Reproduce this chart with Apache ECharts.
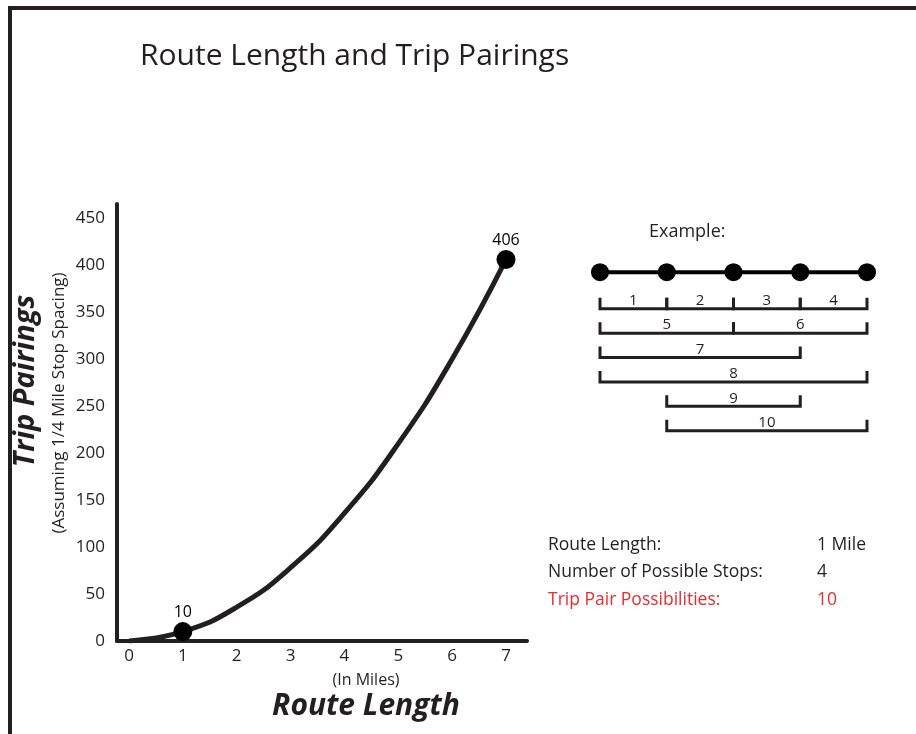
<!DOCTYPE html>
<html>
<head>
<meta charset="utf-8">
<title>Route Length and Trip Pairings</title>
<script src="https://cdn.jsdelivr.net/npm/echarts@6/dist/echarts.min.js"></script>
<style>
  html, body { margin: 0; padding: 0; background: #fff; }
  #chart { width: 916px; height: 734px; }
</style>
</head>
<body>
<div id="chart"></div>
<script>
// curve data
var routeMiles = [0, 1, 2, 3, 4, 5, 6, 7];
var tripPairs = [0, 10, 36, 78, 136, 210, 300, 406];
var markedPoints = [1, 7]; // indexes that get a dot + label
var xTicks = [0, 1, 2, 3, 4, 5, 6, 7];
var yTicks = [0, 50, 100, 150, 200, 250, 300, 350, 400, 450];

// example diagram (1 mile, stops every 1/4 mile)
var stopPositions = [0, 1, 2, 3, 4];
var pairStart = [0, 1, 2, 3, 0, 2, 0, 0, 1, 1];
var pairEnd = [1, 2, 3, 4, 2, 4, 3, 4, 3, 4];
var pairRow = [1, 1, 1, 1, 2, 2, 3, 4, 5, 6];
var pairLabel = ['1', '2', '3', '4', '5', '6', '7', '8', '9', '10'];

var infoLabels = ['Route Length:', 'Number of Possible Stops:', 'Trip Pair Possibilities:'];
var infoValues = ['1 Mile', '4', '10'];

var INK = '#231f20';
var RED = '#ec2a2e';
var FONT = '"Open Sans", "Noto Sans", sans-serif';
var DOT_ROW = -0.5;

var chart = echarts.init(document.getElementById('chart'));

var curveData = routeMiles.map(function (x, i) { return [x, tripPairs[i]]; });
var markData = markedPoints.map(function (i) { return [routeMiles[i], tripPairs[i]]; });
var stopData = stopPositions.map(function (x) { return [x, DOT_ROW]; });
var pairData = pairStart.map(function (s, i) { return [s, pairEnd[i], pairRow[i], pairLabel[i]]; });

var infoGraphics = [];
infoLabels.forEach(function (t, i) {
  var col = i === 2 ? RED : INK;
  infoGraphics.push({
    type: 'text', left: 548, top: 536 + i * 27.5,
    style: { text: t, fill: col, font: '17.5px ' + FONT }
  });
  infoGraphics.push({
    type: 'text', left: 817, top: 536 + i * 27.5,
    style: { text: infoValues[i], fill: col, font: '17.5px ' + FONT }
  });
});

var option = {
  backgroundColor: '#fff',
  animation: false,
  grid: [
    { left: 117, right: 389, top: 204, bottom: 93 },
    { left: 600, right: 49, top: 260, bottom: 279 }
  ],
  xAxis: [
    {
      type: 'value', gridIndex: 0, min: -0.223, max: 7.39,
      axisLine: { show: true, onZero: false, lineStyle: { color: INK, width: 4 } },
      axisTick: { show: false },
      splitLine: { show: false },
      axisLabel: {
        customValues: xTicks, color: INK, fontSize: 17, fontFamily: FONT, margin: 7
      }
    },
    {
      type: 'value', gridIndex: 1, min: 0, max: 4, show: false
    }
  ],
  yAxis: [
    {
      type: 'value', gridIndex: 0, min: 0, max: 465,
      axisLine: { show: true, onZero: false, lineStyle: { color: INK, width: 4 } },
      axisTick: { show: false },
      splitLine: { show: false },
      axisLabel: {
        customValues: yTicks, color: INK, fontSize: 17, fontFamily: FONT, margin: 12
      }
    },
    {
      type: 'value', gridIndex: 1, min: -1, max: 7, inverse: true, show: false
    }
  ],
  series: [
    {
      type: 'line', xAxisIndex: 0, yAxisIndex: 0,
      data: curveData, smooth: true, showSymbol: false,
      lineStyle: { color: INK, width: 5 }, z: 3
    },
    {
      type: 'scatter', xAxisIndex: 0, yAxisIndex: 0,
      data: markData, symbolSize: 19,
      itemStyle: { color: '#000', opacity: 1 }, z: 4,
      label: {
        show: true, position: 'top', distance: 2, color: '#000',
        fontSize: 16, fontFamily: FONT,
        formatter: function (p) { return p.value[1]; }
      }
    },
    {
      type: 'line', xAxisIndex: 1, yAxisIndex: 1,
      data: stopData, symbol: 'circle', symbolSize: 18,
      itemStyle: { color: '#000', opacity: 1 },
      lineStyle: { color: '#000', width: 4 }, z: 3
    },
    {
      type: 'custom', xAxisIndex: 1, yAxisIndex: 1,
      data: pairData,
      renderItem: function (params, api) {
        var p0 = api.coord([api.value(0), api.value(2)]);
        var p1 = api.coord([api.value(1), api.value(2)]);
        return {
          type: 'group',
          children: [
            {
              type: 'polyline',
              shape: { points: [[p0[0], p0[1] - 11], [p0[0], p0[1]], [p1[0], p1[1]], [p1[0], p1[1] - 11]] },
              style: { stroke: INK, lineWidth: 3, fill: null }
            },
            {
              type: 'text',
              style: {
                text: pairData[params.dataIndex][3],
                x: (p0[0] + p1[0]) / 2, y: p0[1] - 8,
                align: 'center', verticalAlign: 'middle',
                fill: INK, font: '15px ' + FONT
              }
            }
          ]
        };
      }
    }
  ],
  graphic: [
    // frame
    { type: 'line', shape: { x1: 8, y1: 8, x2: 916, y2: 8 }, style: { stroke: '#231f20', lineWidth: 4 } },
    { type: 'line', shape: { x1: 10, y1: 6, x2: 10, y2: 734 }, style: { stroke: '#231f20', lineWidth: 4 } },
    {
      type: 'text', left: 140, top: 41,
      style: { text: 'Route Length and Trip Pairings', fill: INK, font: '30px ' + FONT }
    },
    {
      type: 'text', left: 649, top: 223,
      style: { text: 'Example:', fill: INK, font: '18px ' + FONT }
    },
    {
      type: 'text', x: 26, y: 381, rotation: Math.PI / 2,
      style: {
        text: 'Trip Pairings', fill: INK, font: 'italic bold 29px ' + FONT,
        align: 'center', verticalAlign: 'middle'
      }
    },
    {
      type: 'text', x: 59, y: 403, rotation: Math.PI / 2,
      style: {
        text: '(Assuming 1/4 Mile Stop Spacing)', fill: INK, font: '17px ' + FONT,
        align: 'center', verticalAlign: 'middle'
      }
    },
    {
      type: 'text', x: 366, y: 680,
      style: {
        text: '(In Miles)', fill: INK, font: '16px ' + FONT,
        align: 'center', verticalAlign: 'middle'
      }
    },
    {
      type: 'text', x: 366, y: 706,
      style: {
        text: 'Route Length', fill: INK, font: 'italic bold 30px ' + FONT,
        align: 'center', verticalAlign: 'middle'
      }
    }
  ].concat(infoGraphics)
};

chart.setOption(option);
</script>
</body>
</html>
